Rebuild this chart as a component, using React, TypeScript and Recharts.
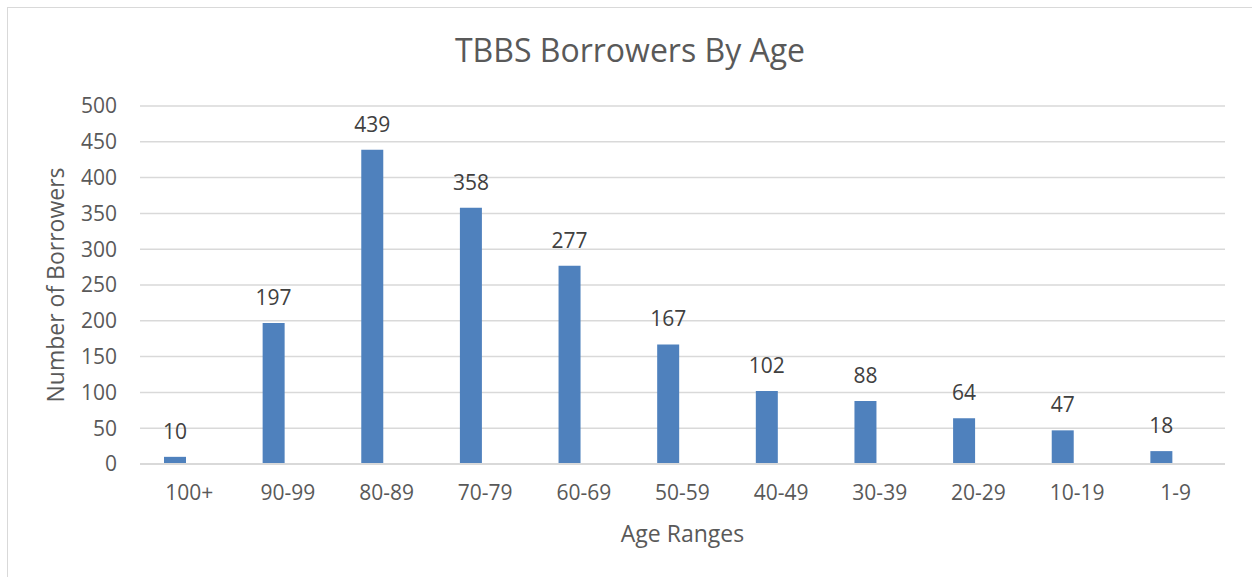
import { Bar, BarChart, CartesianGrid, LabelList, XAxis, YAxis } from "recharts"

const ageRanges = ["100+", "90-99", "80-89", "70-79", "60-69", "50-59", "40-49", "30-39", "20-29", "10-19", "1-9"]
const borrowers = [10, 197, 439, 358, 277, 167, 102, 88, 64, 47, 18]
const yTicks = [0, 50, 100, 150, 200, 250, 300, 350, 400, 450, 500]

const data = ageRanges.map((age, i) => ({ age, borrowers: borrowers[i] }))

const textColor = "#595959"
const gridColor = "#d9d9d9"

export default function App() {
  return (
    <div
      style={{
        position: "fixed",
        left: 0,
        top: 0,
        width: 1252,
        height: 577,
        overflow: "hidden",
        background: "#fff",
        fontFamily: "'Open Sans', sans-serif",
      }}
    >
      {/* chart area frame */}
      <div
        style={{
          position: "absolute",
          left: 7,
          top: 7,
          width: 1300,
          height: 700,
          border: `1px solid ${gridColor}`,
        }}
      />
      <div
        style={{
          position: "absolute",
          left: 0,
          top: 34,
          width: 1260,
          textAlign: "center",
          fontSize: 32,
          lineHeight: 1,
          color: textColor,
        }}
      >
        TBBS Borrowers By Age
      </div>
      <div style={{ position: "absolute", left: 0, top: 0 }}>
        <BarChart
          width={1252}
          height={577}
          data={data}
          margin={{ top: 106, right: 27, bottom: 33, left: 40 }}
          barGap={7}
        >
          <CartesianGrid vertical={false} stroke={gridColor} strokeWidth={1.5} />
          <XAxis
            dataKey="age"
            height={80}
            tickLine={false}
            axisLine={{ stroke: gridColor, strokeWidth: 2 }}
            tickMargin={15}
            tick={{ fill: textColor, fontSize: 21 }}
            label={{ value: "Age Ranges", position: "insideBottom", offset: 2, fill: textColor, fontSize: 23 }}
          />
          <YAxis
            domain={[0, 500]}
            ticks={yTicks}
            width={100}
            axisLine={false}
            tickLine={false}
            tickMargin={17}
            tick={{ fill: textColor, fontSize: 21 }}
            label={{
              value: "Number of Borrowers",
              angle: -90,
              position: "insideLeft",
              offset: 16,
              fill: textColor,
              fontSize: 23,
              style: { textAnchor: "middle" },
            }}
          />
          <Bar dataKey="borrowers" fill="#4f81bd" barSize={22} isAnimationActive={false}>
            <LabelList dataKey="borrowers" position="top" offset={18} fill="#404040" fontSize={21} />
          </Bar>
          <Bar dataKey="none" fill="#c0504d" barSize={22} isAnimationActive={false} />
        </BarChart>
      </div>
    </div>
  )
}
